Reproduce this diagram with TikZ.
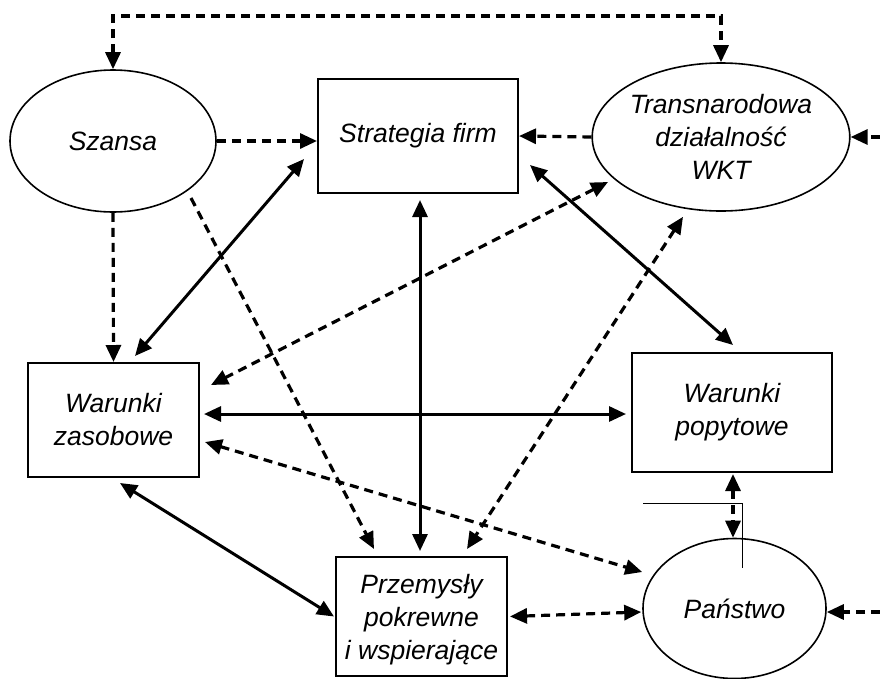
\documentclass[tikz,border=0pt]{standalone}
\usepackage{fontspec}
\setmainfont{Liberation Sans}
\usetikzlibrary{arrows.meta,shapes.geometric,calc}
\begin{document}
\begin{tikzpicture}[x=1pt,y=-1pt,
  >={Triangle[length=17pt,width=15pt]},
  every node/.style={font=\fontsize{26.5}{33}\selectfont\itshape, align=center, inner sep=0pt},
  ebox/.style={ellipse, draw, line width=1.6pt},
  rbox/.style={rectangle, draw, line width=2pt},
  flow/.style={line width=3.2pt, dash pattern=on 9pt off 6pt},
  link/.style={line width=3pt},
  thin/.style={line width=1pt},
  ]
\useasboundingbox (0,0) rectangle (880,678);

% factors
\node[ebox, minimum width=206pt, minimum height=142pt] (szansa) at (113,141) {Szansa};
\node[rbox, minimum width=200pt, minimum height=114pt] (strat) at (418,136) {Strategia firm};
\node[ebox, minimum width=246pt, minimum height=148pt] (trans) at (721,137) {Transnarodowa\\działalność\\WKT};
\node[rbox, minimum width=171pt, minimum height=114pt] (zas) at (113.5,420) {Warunki\\zasobowe};
\node[rbox, minimum width=200pt, minimum height=119pt] (pop) at (732,412.5) {Warunki\\popytowe};
\node[ebox, minimum width=183pt, minimum height=140pt] (pan) at (734.5,608.5) {Państwo};
\node[rbox, minimum width=171pt, minimum height=119pt] (prz) at (421.5,616.5) {};
\node at ($(prz.center)+(0,3)$) {Przemysły\\pokrewne\\i wspierające};

% free ends
\coordinate (topbar) at (400,16);
\coordinate (inT) at (880,137);
\coordinate (inP) at (880,612);
\coordinate (popdown) at ($(pop.south)+(1,1)$);

% dashed influences
\draw[flow,<->] (szansa.north) |- (topbar) -| (trans.north);
\draw[flow,->] (szansa.east) -- (szansa.east -| strat.west);
\draw[flow,->] (trans.west) -- (strat.east);
\draw[flow,->] (inT) -- (trans.east);
\draw[flow,->] (szansa.south) -- (zas.north);
\draw[flow,->] ($(szansa.center)+(78,57)$) -- ($(prz.north west)+(39,-7)$);
\draw[flow,<->] ($(trans.center)+(-113,45)$) -- ($(zas.east)+(11,-35)$);
\draw[flow,<->] ($(trans.south)+(-38,5)$) -- ($(prz.north)+(45.5,-7)$);
\draw[flow,<->] ($(zas.east)+(5,22)$) -- ($(pan.west)+(0,-36.5)$);
\draw[flow,<->] ($(prz.east)+(2,0)$) -- ($(pan.west)+(-1,3.5)$);
\draw[flow,->] (inP) -- (inP -| pan.east);
\draw[flow,<->] (popdown) -- (popdown |- pan.north);

% solid interactions
\draw[link,<->] ($(strat.west)+(-13,23)$) -- ($(zas.north)+(21.5,-6)$);
\draw[link,<->] ($(strat.south)+(2,6)$) -- ($(prz.north)+(-1.5,-5)$);
\draw[link,<->] ($(strat.east)+(11,29)$) -- ($(pop.north)+(1,-7)$);
\draw[link,<->] ($(zas.east)+(4,-6)$) -- ($(pop.west)+(-5,1.5)$);
\draw[link,<->] ($(zas.south)+(6.5,5)$) -- ($(prz.west)+(-1,0)$);

% thin marker line
\coordinate (mk) at (643,503);
\draw[thin] (mk) -- ++(99,0) -- ++(0,65);
\end{tikzpicture}
\end{document}
